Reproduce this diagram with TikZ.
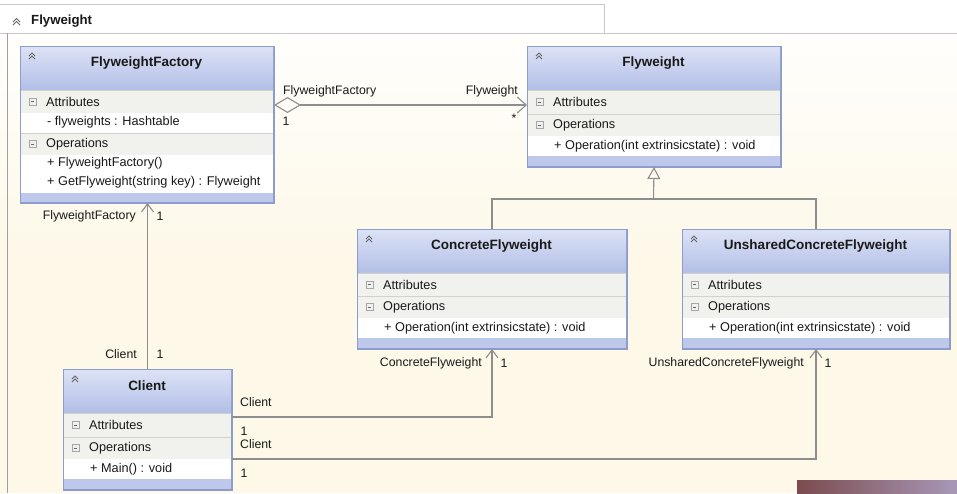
\documentclass[tikz,border=0pt]{standalone}
\usepackage{fontspec}
\setmainfont{Liberation Sans}
\usetikzlibrary{arrows.meta}
\definecolor{cream}{HTML}{FDF8E8}
\definecolor{hdtop}{HTML}{DDE3F6}
\definecolor{hdbot}{HTML}{B2BEE6}
\definecolor{bord}{HTML}{8C9CCB}
\definecolor{secbg}{HTML}{F1F2EE}
\definecolor{sepc}{HTML}{D0D2CE}
\definecolor{linec}{HTML}{8E8E8E}
\definecolor{tabline}{HTML}{C8C8C8}
\definecolor{patchl}{HTML}{7B4B4E}
\definecolor{patchr}{HTML}{A898B8}
\tikzset{
  txt/.style={font=\fontsize{12.7}{14}\selectfont, inner sep=0, text=black!90},
  lbl/.style={font=\fontsize{12.3}{14}\selectfont, inner sep=0, text=black!90},
  ttl/.style={font=\bfseries\fontsize{13.5}{15}\selectfont, inner sep=0, text=black!90},
  clsbox/.style={draw=bord, line width=1pt, fill=white, inner sep=0, anchor=north west},
  conn/.style={draw=linec, line width=1.1pt},
  vtip/.style={-{Straight Barb[length=9pt,width=15pt]}},
  vtips/.style={-{Straight Barb[length=8pt,width=12pt]}},
}
% header: x y w title
\newcommand\umlhdr[4]{%
  \shade[top color=hdtop,bottom color=hdbot] (#1,#2) rectangle ++(#3,44);
  \node[ttl] at (#1+#3/2,#2+17) {#4};
  \draw[gray!80!black, line width=0.8pt] (#1+9,#2+10) -- (#1+12,#2+7) -- (#1+15,#2+10);
  \draw[gray!80!black, line width=0.8pt] (#1+9,#2+13) -- (#1+12,#2+10) -- (#1+15,#2+13);
}
% section row: x y w h label
\newcommand\umlsect[5]{%
  \fill[secbg] (#1,#2) rectangle ++(#3,#4);
  \draw[sepc, line width=0.8pt] (#1,#2) -- ++(#3,0);
  \draw[draw=gray!70, fill=gray!12, line width=0.6pt] (#1+9,#2+#4/2-3.5) rectangle ++(7,7);
  \draw[gray!80!black, line width=0.7pt] (#1+10.8,#2+#4/2) -- ++(3.4,0);
  \node[txt, anchor=west] at (#1+26,#2+#4/2) {#5};
}
% item: x ycenter text
\newcommand\umlitem[3]{%
  \node[txt, anchor=west] at (#1+27,#2) {#3};
}
% bottom bar: x y w h
\newcommand\umlbar[4]{%
  \fill[hdbot!85!white] (#1,#2) rectangle ++(#3,#4);
}
\begin{document}
\begin{tikzpicture}[x=1pt,y=-1pt]
\useasboundingbox (0,0) rectangle (957,493);
% background
\fill[cream] (0,0) rectangle (957,493);
\shade[top color=white, bottom color=cream] (0,0) rectangle (957,260);
\fill[white] (0,0) rectangle (957,33);
\draw[tabline, line width=1pt] (0,4) -- (604,4) -- (604,33);
\draw[tabline, line width=1pt] (0,33) -- (957,33);
\draw[tabline!80!black, line width=0.8pt] (7,33) -- (7,493);
\draw[gray!80!black, line width=0.8pt] (13,22) -- (16.5,18.5) -- (20,22);
\draw[gray!80!black, line width=0.8pt] (13,25) -- (16.5,21.5) -- (20,25);
\node[ttl, anchor=west, font=\bfseries\fontsize{13.2}{15}\selectfont] (tabtitle) at (31,21) {Flyweight};

% ---------- FlyweightFactory
\node[clsbox, minimum width=253, minimum height=156] (ff) at (20,46) {};
\umlhdr{20}{46}{253}{FlyweightFactory}
\umlsect{20}{90}{253}{23}{Attributes}
\umlitem{20}{122}{- flyweights : Hashtable}
\umlsect{20}{133}{253}{22}{Operations}
\umlitem{20}{163}{+ FlyweightFactory()}
\umlitem{20}{182}{+ GetFlyweight(string key) : Flyweight}
\umlbar{20}{193}{253}{9}
\draw[bord, line width=1pt] (ff.north west) rectangle (ff.south east);

% ---------- Flyweight
\node[clsbox, minimum width=253, minimum height=120] (fw) at (527,46) {};
\umlhdr{527}{46}{253}{Flyweight}
\umlsect{527}{90}{253}{24}{Attributes}
\umlsect{527}{114}{253}{22}{Operations}
\umlitem{527}{146}{+ Operation(int extrinsicstate) : void}
\umlbar{527}{156}{253}{10}
\draw[bord, line width=1pt] (fw.north west) rectangle (fw.south east);

% ---------- ConcreteFlyweight
\node[clsbox, minimum width=269, minimum height=119] (cf) at (357,229) {};
\umlhdr{357}{229}{269}{ConcreteFlyweight}
\umlsect{357}{273}{269}{23}{Attributes}
\umlsect{357}{296}{269}{22}{Operations}
\umlitem{357}{328}{+ Operation(int extrinsicstate) : void}
\umlbar{357}{338}{269}{10}
\draw[bord, line width=1pt] (cf.north west) rectangle (cf.south east);

% ---------- UnsharedConcreteFlyweight
\node[clsbox, minimum width=267, minimum height=119] (ucf) at (682,229) {};
\umlhdr{682}{229}{267}{UnsharedConcreteFlyweight}
\umlsect{682}{273}{267}{23}{Attributes}
\umlsect{682}{296}{267}{22}{Operations}
\umlitem{682}{328}{+ Operation(int extrinsicstate) : void}
\umlbar{682}{338}{267}{10}
\draw[bord, line width=1pt] (ucf.north west) rectangle (ucf.south east);

% ---------- Client
\node[clsbox, minimum width=168, minimum height=120] (cl) at (63,369) {};
\umlhdr{63}{369}{168}{Client}
\umlsect{63}{413}{168}{24}{Attributes}
\umlsect{63}{437}{168}{22}{Operations}
\umlitem{63}{469}{+ Main() : void}
\umlbar{63}{479}{168}{10}
\draw[bord, line width=1pt] (cl.north west) rectangle (cl.south east);

% ---------- connectors
\draw[conn, {Diamond[open,length=27pt,width=16pt]}-{Straight Barb[length=9pt,width=16pt]}]
  ([yshift=-59pt]ff.north east) -- ([yshift=-59pt]fw.north west);
\coordinate (fork) at (653.5,199);
\draw[conn] (cf.north) |- (fork);
\draw[conn] (ucf.north) |- (fork);
\draw[conn, -{Triangle[open,length=12pt,width=13pt]}] (fork) -- (fw.south);
\draw[conn, vtips] (cl.north) -- (cl.north |- ff.south);
\draw[conn, vtips] ([yshift=-48pt]cl.north east) -| (cf.south);
\draw[conn, vtips] ([yshift=-90pt]cl.north east) -| (ucf.south);

% ---------- labels
\node[lbl, anchor=west] (l1) at (283,91) {FlyweightFactory};
\node[lbl] (l2) at (286,121) {1};
\node[lbl, anchor=east] (l3) at (518,91) {Flyweight};
\node[lbl] (l4) at (514,118) {*};
\node[lbl, anchor=east] (l5) at (136,216) {FlyweightFactory};
\node[lbl] (l6) at (160,216) {1};
\node[lbl, anchor=east] (l7) at (137,354) {Client};
\node[lbl] (l8) at (160,354) {1};
\node[lbl, anchor=west] (l9) at (240,402) {Client};
\node[lbl] (l10) at (244,431) {1};
\node[lbl, anchor=west] (l11) at (240,444) {Client};
\node[lbl] (l12) at (244,473) {1};
\node[lbl, anchor=east] (l13) at (482,363) {ConcreteFlyweight};
\node[lbl] (l14) at (504,363) {1};
\node[lbl, anchor=east] (l15) at (804,363) {UnsharedConcreteFlyweight};
\node[lbl] (l16) at (828,363) {1};

% overlay patch bottom right
\shade[left color=patchl, right color=patchr] (797,480) rectangle (957,493);
\end{tikzpicture}
\end{document}
